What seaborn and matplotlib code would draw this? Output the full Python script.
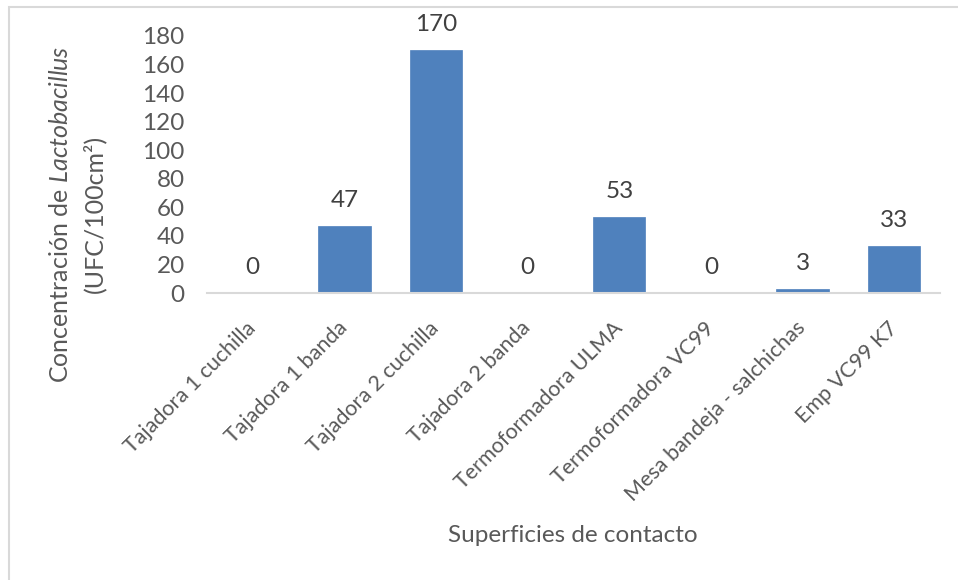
import matplotlib
matplotlib.use("Agg")
import matplotlib.pyplot as plt
import matplotlib.patches as mpatches
import seaborn as sns
import pandas as pd

# Surfaces sampled and Lactobacillus counts per surface
superficies = [
    "Tajadora 1 cuchilla",
    "Tajadora 1 banda",
    "Tajadora 2 cuchilla",
    "Tajadora 2 banda",
    "Termoformadora ULMA",
    "Termoformadora VC99",
    "Mesa bandeja - salchichas",
    "Emp VC99 K7",
]
ufc = [0, 47, 170, 0, 53, 0, 3, 33]
yticks = [0, 20, 40, 60, 80, 100, 120, 140, 160, 180]

sns.set_theme(style="white")
plt.rcParams["font.family"] = ["Lato", "DejaVu Sans"]
plt.rcParams["mathtext.fontset"] = "custom"
plt.rcParams["mathtext.rm"] = "Lato"
plt.rcParams["mathtext.it"] = "Lato:italic"

TEXT = "#595959"
BAR = "#4F81BD"
GRID = "#D9D9D9"

W, H = 958, 580
fig = plt.figure(figsize=(W / 100, H / 100), dpi=100)
ax = fig.add_axes([207 / W, 1 - 293 / H, 733 / W, 257 / H])

df = pd.DataFrame({"superficie": superficies, "ufc": ufc})
sns.barplot(data=df, x="superficie", y="ufc", color=BAR, saturation=1,
            width=0.57, ax=ax, edgecolor=BAR, linewidth=0.5)

ax.set_xlim(-0.5, len(superficies) - 0.5)
ax.set_ylim(0, 180)
ax.set_yticks(yticks)
ax.set_yticklabels([str(t) for t in yticks], fontsize=17.5, color=TEXT)
ax.tick_params(axis="y", length=0, pad=16)
ax.tick_params(axis="x", length=0, pad=23)
ax.set_xticks(range(len(superficies)))
ax.set_xticklabels(superficies, rotation=45, ha="right", va="center",
                   rotation_mode="anchor", fontsize=15.5, color=TEXT)
ax.set_xlabel("")
ax.set_ylabel("")

for side in ("left", "right", "top"):
    ax.spines[side].set_visible(False)
ax.spines["bottom"].set_color(GRID)
ax.spines["bottom"].set_linewidth(1.5)

# Value labels above each bar
for i, v in enumerate(ufc):
    ax.annotate(str(v), xy=(i, v), xytext=(0, 18.5), textcoords="offset points",
                ha="center", va="center", fontsize=17.5, color="#404040",
                annotation_clip=False)

# Axis titles
fig.text(573 / W, 1 - 535 / H, "Superficies de contacto", ha="center",
         va="center", fontsize=17.5, color=TEXT)
fig.text(61 / W, 1 - 214 / H, "Concentración de $\\it{Lactobacillus}$",
         rotation=90, ha="center", va="center", fontsize=18, color=TEXT)
fig.text(94 / W, 1 - 214 / H, "(UFC/100cm²)", rotation=90, ha="center",
         va="center", fontsize=18, color=TEXT)

# Chart area outline
fig.patches.append(mpatches.Rectangle((9 / W, -0.05), 1.0, 1 - 7 / H + 0.05,
                                      transform=fig.transFigure, fill=False,
                                      edgecolor=GRID, linewidth=1.5))

fig.savefig("out.png", dpi=100)
